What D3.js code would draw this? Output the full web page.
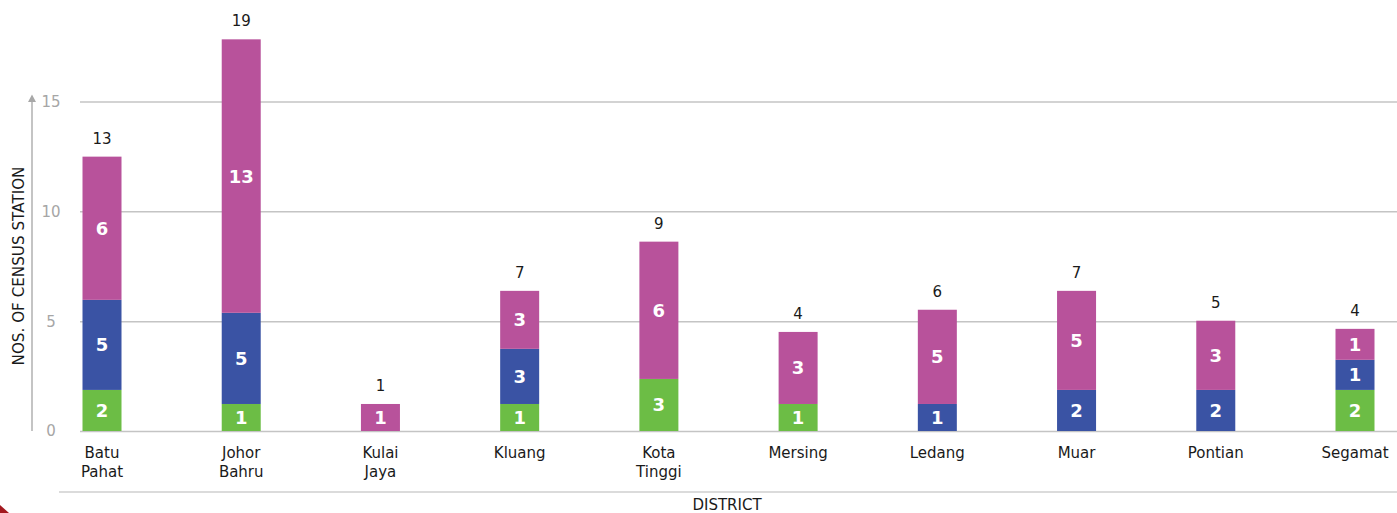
<!DOCTYPE html>
<html>
<head>
<meta charset="utf-8">
<script src="https://cdn.jsdelivr.net/npm/d3@7"></script>
<style>
  html, body { margin: 0; padding: 0; background: #fff; }
  svg { display: block; font-family: "DejaVu Sans", sans-serif; }
</style>
</head>
<body>
<div id="chart"></div>
<script>
// districts along the x axis
const districts = ["Batu Pahat", "Johor Bahru", "Kulai Jaya", "Kluang", "Kota Tinggi",
                   "Mersing", "Ledang", "Muar", "Pontian", "Segamat"];
const totals = [13, 19, 1, 7, 9, 4, 6, 7, 5, 4];

// counts printed inside each segment
const greenCounts = [2, 1, 0, 1, 3, 1, 0, 0, 0, 2];
const blueCounts  = [5, 5, 0, 3, 0, 0, 1, 2, 2, 1];
const pinkCounts  = [6, 13, 1, 3, 6, 3, 5, 5, 3, 1];

// segment heights as drawn in the picture (axis units)
const greenHeights = [1.87, 1.23, 0, 1.23, 2.37, 1.23, 0, 0, 0, 1.87];
const blueHeights  = [4.10, 4.15, 0, 2.51, 0, 0, 1.23, 1.87, 1.87, 1.37];
const pinkHeights  = [6.52, 12.45, 1.23, 2.64, 6.25, 3.28, 4.29, 4.51, 3.15, 1.41];

const yTicks = [0, 5, 10, 15];

const width = 1397, height = 513;
const colors = { green: "#6cbd45", blue: "#3a53a4", pink: "#b8529b" };
const counts = { green: greenCounts, blue: blueCounts, pink: pinkCounts };

const table = districts.map((name, i) => ({
  name, i,
  green: greenHeights[i],
  blue: blueHeights[i],
  pink: pinkHeights[i]
}));

const svg = d3.select("#chart").append("svg")
  .attr("width", width)
  .attr("height", height);

const x = d3.scalePoint().domain(districts).range([102, 1355]);
const barWidth = 39;
const y = d3.scaleLinear().domain([0, 15]).range([431, 101.5]);

// gridlines
const grid = svg.append("g")
  .attr("transform", "translate(80,0)")
  .call(d3.axisRight(y).tickValues(yTicks).tickSize(width - 80).tickFormat(""));
grid.select(".domain").remove();
grid.selectAll("line").attr("stroke", "#c4c4c4").attr("stroke-width", 1.5);

// y axis line with arrow
svg.append("line")
  .attr("x1", 32).attr("x2", 32)
  .attr("y1", y(0)).attr("y2", y(15) - 3)
  .attr("stroke", "#b0b0b0").attr("stroke-width", 1.5);
svg.append("path")
  .attr("d", `M32,${y(15) - 7} L28,${y(15) + 0.5} L36,${y(15) + 0.5} Z`)
  .attr("fill", "#a8a8a8");

svg.append("g").selectAll("text")
  .data(yTicks)
  .join("text")
  .attr("x", 51)
  .attr("y", d => y(d))
  .attr("dy", "0.36em")
  .attr("text-anchor", "middle")
  .attr("fill", "#a6a6a6")
  .attr("font-size", 15)
  .text(d => d);

svg.append("text")
  .attr("transform", `translate(24,266) rotate(-90)`)
  .attr("text-anchor", "middle")
  .attr("fill", "#1a1a1a")
  .attr("font-size", 15.2)
  .text("NOS. OF CENSUS STATION");

// stacked bars
const keys = ["green", "blue", "pink"];
const series = d3.stack().keys(keys)(table);

const layers = svg.append("g").selectAll("g")
  .data(series)
  .join("g")
  .attr("fill", d => colors[d.key]);

layers.selectAll("rect")
  .data(d => d.filter(p => p[1] > p[0]))
  .join("rect")
  .attr("x", p => x(p.data.name) - barWidth / 2)
  .attr("width", barWidth)
  .attr("y", p => y(p[1]))
  .attr("height", p => y(p[0]) - y(p[1]));

layers.selectAll("text")
  .data(d => d.filter(p => p[1] > p[0]).map(p => ({ p, key: d.key })))
  .join("text")
  .attr("x", d => x(d.p.data.name))
  .attr("y", d => (y(d.p[0]) + y(d.p[1])) / 2)
  .attr("dy", "0.36em")
  .attr("text-anchor", "middle")
  .attr("fill", "#fff")
  .attr("font-weight", "bold")
  .attr("font-size", 18)
  .text(d => counts[d.key][d.p.data.i]);

// totals above bars
const topLayer = series[series.length - 1];
svg.append("g").selectAll("text")
  .data(topLayer)
  .join("text")
  .attr("x", p => x(p.data.name))
  .attr("y", p => y(p[1]) - 13)
  .attr("text-anchor", "middle")
  .attr("fill", "#1a1a1a")
  .attr("font-size", 15)
  .text(p => totals[p.data.i]);

// category labels
const labels = svg.append("g").selectAll("text")
  .data(districts)
  .join("text")
  .attr("x", d => x(d))
  .attr("y", 458)
  .attr("text-anchor", "middle")
  .attr("fill", "#1a1a1a")
  .attr("font-size", 15);
labels.selectAll("tspan")
  .data(d => d.split(" ").map(w => ({ w, x: x(d) })))
  .join("tspan")
  .attr("x", t => t.x)
  .attr("dy", (t, i) => i === 0 ? 0 : 18.5)
  .text(t => t.w);

// bottom rule and axis title
svg.append("line")
  .attr("x1", 59).attr("x2", width)
  .attr("y1", 492).attr("y2", 492)
  .attr("stroke", "#cfcfcf").attr("stroke-width", 1.5);

svg.append("text")
  .attr("x", 727)
  .attr("y", 510)
  .attr("text-anchor", "middle")
  .attr("fill", "#1a1a1a")
  .attr("font-size", 15)
  .text("DISTRICT");

// corner mark
svg.append("path")
  .attr("d", `M0,${height - 8} L9,${height} L0,${height} Z`)
  .attr("fill", "#a3191f");
</script>
</body>
</html>
